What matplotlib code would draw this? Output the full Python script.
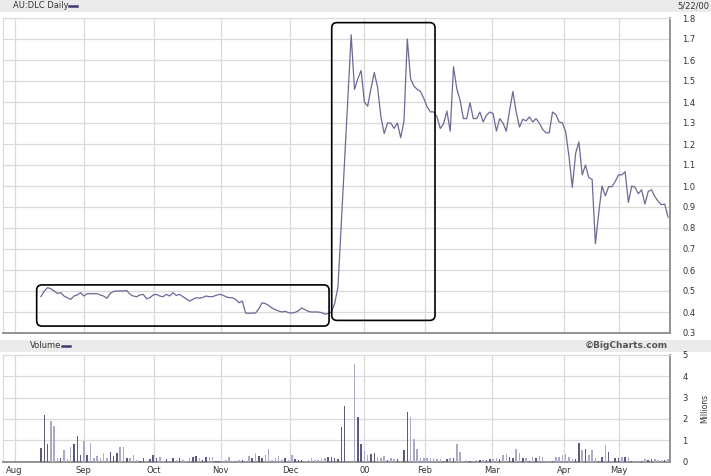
import numpy as np
import matplotlib
matplotlib.use('Agg')
import matplotlib.pyplot as plt
from matplotlib.patches import FancyBboxPatch, Rectangle
from matplotlib.lines import Line2D

plt.rcParams['font.family'] = ['DejaVu Sans']

# trading-day index of the first point
start_idx = 8

# daily close, AU:DLC (Aug 1999 - May 2000)
prices = [
    0.473, 0.500, 0.516, 0.511, 0.500, 0.489, 0.492, 0.476, 0.468, 0.460,
    0.476, 0.481, 0.492, 0.476, 0.487, 0.487, 0.487, 0.487, 0.481, 0.476,
    0.465, 0.489, 0.498, 0.500, 0.500, 0.500, 0.502, 0.484, 0.476, 0.473,
    0.481, 0.484, 0.463, 0.468, 0.481, 0.484, 0.476, 0.473, 0.484, 0.476,
    0.492, 0.479, 0.484, 0.473, 0.463, 0.452, 0.460, 0.468, 0.466, 0.469,
    0.476, 0.473, 0.473, 0.479, 0.484, 0.481, 0.473, 0.468, 0.468, 0.460,
    0.444, 0.452, 0.395, 0.394, 0.395, 0.395, 0.415, 0.444, 0.440, 0.431,
    0.419, 0.411, 0.405, 0.400, 0.403, 0.397, 0.395, 0.398, 0.406, 0.419,
    0.411, 0.403, 0.400, 0.400, 0.400, 0.397, 0.390,
    0.392, 0.400, 0.440, 0.520, 0.820, 1.120, 1.420, 1.720,
    1.46, 1.51, 1.55, 1.40, 1.38, 1.465, 1.54, 1.47, 1.33, 1.25,
    1.30, 1.30, 1.274, 1.30, 1.23, 1.31, 1.70, 1.51, 1.476, 1.46,
    1.45, 1.417, 1.377, 1.353, 1.353,
    1.329, 1.274, 1.297, 1.357, 1.261, 1.568, 1.463, 1.408, 1.321, 1.321,
    1.397, 1.321, 1.321, 1.352, 1.305, 1.337, 1.352, 1.345, 1.262, 1.321,
    1.300, 1.261, 1.360, 1.450, 1.352, 1.281, 1.318, 1.310, 1.329, 1.305,
    1.321, 1.300, 1.270, 1.253, 1.253, 1.352, 1.341, 1.305, 1.300, 1.258,
    1.139, 0.994, 1.155, 1.210, 1.053, 1.100, 1.040, 1.032, 0.725, 0.871,
    1.000, 0.953, 0.997, 0.997, 1.021, 1.053, 1.053, 1.068, 0.922, 1.000,
    0.994, 0.963, 0.982, 0.914, 0.974, 0.982, 0.950, 0.927, 0.911, 0.914,
    0.852,
]

# daily volume, millions
volume = [
    0.65, 2.18, 0.82, 1.90, 1.67, 0.15, 0.18, 0.54, 0.12, 0.66,
    0.84, 1.20, 0.30, 0.98, 0.30, 0.87, 0.18, 0.26, 0.18, 0.41,
    0.15, 0.45, 0.26, 0.40, 0.70, 0.66, 0.18, 0.15, 0.30, 0.07,
    0.04, 0.15, 0.04, 0.10, 0.30, 0.15, 0.21, 0.04, 0.12, 0.04,
    0.15, 0.07, 0.15, 0.07, 0.04, 0.15, 0.21, 0.26, 0.18, 0.07,
    0.21, 0.20, 0.20, 0.04, 0.04, 0.04, 0.07, 0.21, 0.04, 0.02,
    0.05, 0.05, 0.04, 0.27, 0.18, 0.38, 0.27, 0.15, 0.30, 0.57,
    0.07, 0.15, 0.27, 0.07, 0.15, 0.07, 0.30, 0.12, 0.07, 0.05,
    0.04, 0.05, 0.15, 0.05, 0.05, 0.12, 0.15, 0.21, 0.23, 0.15,
    0.12, 1.60, 2.62,
    0.0, 0.0,
    4.60, 2.10, 0.82, 0.49, 0.30, 0.35, 0.41, 0.23, 0.18, 0.26,
    0.07, 0.15, 0.12, 0.12, 0.04, 0.54, 2.34, 2.10, 1.06, 0.57,
    0.15, 0.15, 0.18, 0.18, 0.15, 0.12, 0.12, 0.04, 0.12, 0.15,
    0.15, 0.80, 0.45, 0.04, 0.07, 0.04, 0.04, 0.07, 0.07, 0.07,
    0.07, 0.10, 0.12, 0.15, 0.10, 0.30, 0.35, 0.20, 0.15, 0.59,
    0.41, 0.15, 0.15, 0.04, 0.21, 0.18, 0.26, 0.23, 0.04, 0.04,
    0.04, 0.23, 0.23, 0.29, 0.35, 0.20, 0.12, 0.12, 0.85, 0.54,
    0.59, 0.30, 0.54, 0.18, 0.04, 0.21, 0.77, 0.43, 0.04, 0.15,
    0.15, 0.23, 0.23, 0.23, 0.04, 0.04, 0.04, 0.04, 0.12, 0.07,
    0.12, 0.10, 0.07, 0.07, 0.07, 0.10,
]

month_labels = ['Aug', 'Sep', 'Oct', 'Nov', 'Dec', '00', 'Feb', 'Mar', 'Apr', 'May']
month_pos = [0, 21, 42.3, 62.5, 83.5, 106, 124.3, 144.6, 166.6, 183.2]

price_ticks = [round(0.3 + 0.1 * i, 1) for i in range(16)]
vol_ticks = [0, 1, 2, 3, 4, 5]

x = np.arange(start_idx, start_idx + len(prices))
xv = np.arange(start_idx, start_idx + len(volume))

line_col = '#6a6a95'
dark_bar = '#5b5b80'
light_bar = '#a9a9c8'
grid_col = '#dadada'
edge_col = '#8a8a8a'
text_col = '#333333'

W, H = 711, 476
fig = plt.figure(figsize=(W / 100, H / 100), dpi=100)
fig.patch.set_facecolor('white')


def fx(px):
    return px / W


def fy(py):
    return 1 - py / H


# grey header strips
fig.add_artist(Rectangle((0, fy(12)), 1, 12 / H, transform=fig.transFigure,
                         facecolor='#ebebeb', edgecolor='none', zorder=0))
fig.add_artist(Rectangle((0, fy(352)), 1, 12 / H, transform=fig.transFigure,
                         facecolor='#ebebeb', edgecolor='none', zorder=0))

xlim = (-3.5, 198.6)

# price panel
ax = fig.add_axes([fx(3), fy(333), fx(667), 315 / H])
ax.plot(x, prices, color=line_col, lw=0.9, zorder=3)
ax.set_xlim(*xlim)
ax.set_ylim(0.3, 1.8)
ax.set_yticks(price_ticks)
ax.set_yticklabels(['%.1f' % t for t in price_ticks])
ax.set_xticks(month_pos)
ax.set_xticklabels([])
ax.grid(True, color=grid_col, lw=0.9)
ax.set_axisbelow(True)
ax.tick_params(axis='y', left=False, labelleft=False, right=True,
               labelright=True, length=0, pad=9, labelsize=6, labelcolor=text_col)
ax.tick_params(axis='x', length=0)

# highlight boxes
box1 = FancyBboxPatch((6.7, 0.333), 95.3 - 6.7, 0.529 - 0.333,
                      boxstyle='round,pad=0,rounding_size=1.6',
                      mutation_aspect=0.016, fill=False, ec='black', lw=1.2, zorder=4)
box2 = FancyBboxPatch((96.1, 0.360), 127.4 - 96.1, 1.778 - 0.360,
                      boxstyle='round,pad=0,rounding_size=1.6',
                      mutation_aspect=0.016, fill=False, ec='black', lw=1.2, zorder=4)
ax.add_patch(box1)
ax.add_patch(box2)

# volume panel
axv = fig.add_axes([fx(3), fy(461.5), fx(667), 106.5 / H])
up = [True] + [prices[i] > prices[i - 1] for i in range(1, len(prices))]
cols = [dark_bar if u else light_bar for u in up]
axv.bar(xv, volume, width=0.45, color=cols, zorder=3)
axv.set_xlim(*xlim)
axv.set_ylim(0, 5)
axv.set_yticks(vol_ticks)
axv.set_xticks(month_pos)
axv.set_xticklabels(month_labels)
axv.grid(True, color=grid_col, lw=0.9)
axv.set_axisbelow(True)
axv.tick_params(axis='y', left=False, labelleft=False, right=True,
                labelright=True, length=0, pad=9, labelsize=6, labelcolor=text_col)
axv.tick_params(axis='x', length=0, pad=3, labelsize=6, labelcolor=text_col)

for a in (ax, axv):
    a.spines['right'].set_color(edge_col)
    a.spines['right'].set_linewidth(1.3)
    a.spines['bottom'].set_color(edge_col)
    a.spines['bottom'].set_linewidth(1.3)
    a.spines['left'].set_color(grid_col)
    a.spines['top'].set_color(grid_col)

# header texts
fig.text(fx(13), fy(6), 'AU:DLC Daily', fontsize=6, color=text_col, va='center', ha='left')
fig.add_artist(Line2D([fx(69), fx(77)], [fy(6), fy(6)], transform=fig.transFigure,
                      color='#3c3c6c', lw=1.8))
fig.text(fx(709), fy(6), '5/22/00', fontsize=6, color=text_col, va='center', ha='right')
fig.text(fx(30), fy(346), 'Volume', fontsize=6, color=text_col, va='center', ha='left')
fig.add_artist(Line2D([fx(62), fx(70)], [fy(346), fy(346)], transform=fig.transFigure,
                      color='#3c3c6c', lw=1.8))
fig.text(fx(668), fy(346), '\u00a9BigCharts.com', fontsize=6.5, fontweight='bold',
         color='#555555', va='center', ha='right')
fig.text(fx(705), fy(408), 'Millions', fontsize=5.5, color=text_col, rotation=90,
         va='center', ha='center')

fig.savefig('out.png', dpi=100)
